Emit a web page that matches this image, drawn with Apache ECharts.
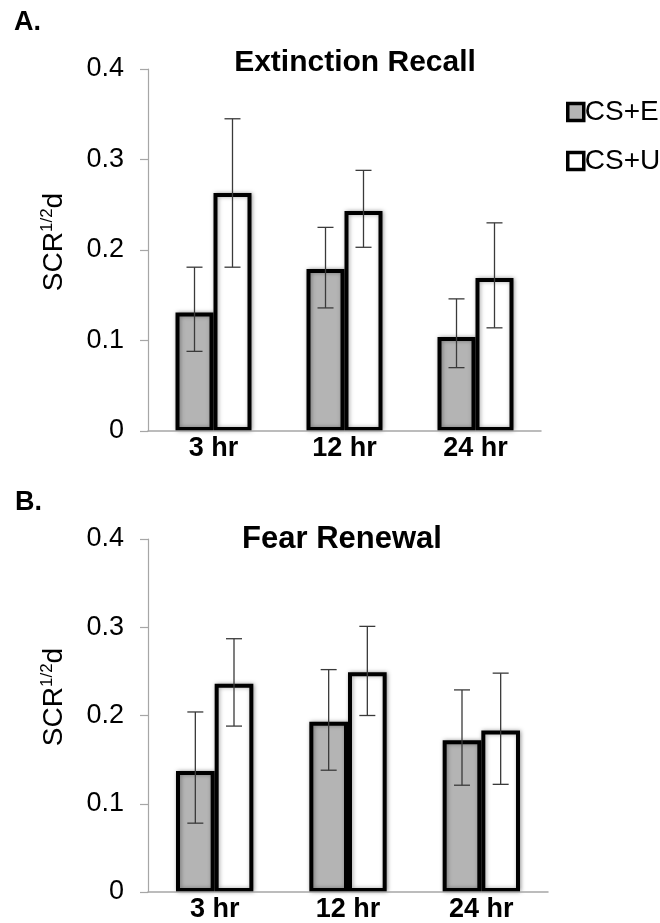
<!DOCTYPE html>
<html>
<head>
<meta charset="utf-8">
<script src="https://cdn.jsdelivr.net/npm/echarts@6/dist/echarts.min.js"></script>
<style>
html,body{margin:0;padding:0;background:#fff;}
#chart{width:660px;height:923px;}
</style>
</head>
<body>
<div id="chart"></div>
<script>
// ---- Data ----
const categories = ['3 hr', '12 hr', '24 hr'];
const seriesNames = ['CS+E', 'CS+U'];

// Panel A: Extinction Recall
const recallE = [0.131, 0.179, 0.104];
const recallU = [0.263, 0.243, 0.169];
const recallELow = [0.088, 0.136, 0.070];
const recallEHigh = [0.181, 0.225, 0.146];
const recallULow = [0.181, 0.203, 0.114];
const recallUHigh = [0.345, 0.288, 0.230];

// Panel B: Fear Renewal
const renewE = [0.137, 0.193, 0.172];
const renewU = [0.236, 0.249, 0.183];
const renewELow = [0.078, 0.138, 0.121];
const renewEHigh = [0.204, 0.252, 0.229];
const renewULow = [0.188, 0.200, 0.122];
const renewUHigh = [0.287, 0.301, 0.248];

const yTicks = [0, 0.1, 0.2, 0.3, 0.4];

// ---- Styles ----
const FONT = '"Liberation Sans", Arial, Helvetica, sans-serif';
const GRAY_FILL = '#b4b4b4';
const AXIS_GRAY = '#a6a6a6';
const CAT_GAP = 0.42;

function errData(lo, hi) {
  return lo.map((v, i) => [i, v, hi[i]]);
}

function errSeries(name, lo, hi, side, axisIdx) {
  return {
    type: 'custom',
    name: name + ' err',
    xAxisIndex: axisIdx,
    yAxisIndex: axisIdx,
    z: 10,
    silent: true,
    encode: { x: 0, y: [1, 2] },
    data: errData(lo, hi),
    renderItem: function (params, api) {
      const band = api.size([1, 0])[0];
      const barW = band * (1 - CAT_GAP) / 2;
      const c = api.coord([api.value(0), 0])[0] + side * barW / 2;
      const yLo = api.coord([api.value(0), api.value(1)])[1];
      const yHi = api.coord([api.value(0), api.value(2)])[1];
      const cap = 8;
      const st = { stroke: '#3a3a3a', lineWidth: 1.3 };
      return {
        type: 'group',
        children: [
          { type: 'line', shape: { x1: c, y1: yLo, x2: c, y2: yHi }, style: st },
          { type: 'line', shape: { x1: c - cap, y1: yHi, x2: c + cap, y2: yHi }, style: st },
          { type: 'line', shape: { x1: c - cap, y1: yLo, x2: c + cap, y2: yLo }, style: st }
        ]
      };
    }
  };
}

function barSeries(name, data, fill, axisIdx) {
  return {
    type: 'bar',
    name: name,
    xAxisIndex: axisIdx,
    yAxisIndex: axisIdx,
    data: data,
    barGap: '0%',
    barCategoryGap: (CAT_GAP * 100) + '%',
    itemStyle: {
      color: fill,
      borderColor: '#000',
      borderWidth: 4,
      shadowColor: 'rgba(0,0,0,0.35)',
      shadowBlur: 4,
      shadowOffsetX: 1
    },
    emphasis: { disabled: true }
  };
}

function xAxisDef(gridIndex) {
  return {
    type: 'category',
    gridIndex: gridIndex,
    data: categories,
    z: 5,
    axisLine: { show: true, lineStyle: { color: AXIS_GRAY, width: 1.5 } },
    axisTick: { show: false },
    axisLabel: {
      color: '#000', fontFamily: FONT, fontWeight: 'bold', fontSize: 27, margin: 4
    }
  };
}

function yAxisDef(gridIndex) {
  return {
    type: 'value',
    gridIndex: gridIndex,
    min: yTicks[0],
    max: yTicks[yTicks.length - 1],
    interval: 0.1,
    splitLine: { show: false },
    axisLine: { show: true, lineStyle: { color: AXIS_GRAY, width: 1.2 } },
    axisTick: { show: true, length: 8, lineStyle: { color: AXIS_GRAY, width: 1.2 } },
    axisLabel: {
      color: '#000', fontFamily: FONT, fontSize: 27, margin: 24,
      formatter: function (v) { return String(Math.round(v * 10) / 10); }
    }
  };
}

function yLabel(x, y) {
  return {
    type: 'text',
    x: x, y: y,
    rotation: Math.PI / 2,
    style: {
      text: '{m|SCR}{s|1/2}{m|d}',
      align: 'center',
      verticalAlign: 'middle',
      fill: '#000',
      rich: {
        m: { fontFamily: FONT, fontSize: 28, lineHeight: 30, fill: '#000' },
        s: { fontFamily: FONT, fontSize: 17, lineHeight: 17, verticalAlign: 'top', fill: '#000' }
      }
    }
  };
}

function textEl(txt, x, y, size, bold, align) {
  return {
    type: 'text', x: x, y: y,
    style: {
      text: txt, fontFamily: FONT, fontSize: size,
      fontWeight: bold ? 'bold' : 'normal',
      fill: '#000', align: align || 'left', verticalAlign: 'middle'
    }
  };
}

const chart = echarts.init(document.getElementById('chart'), null, { renderer: 'canvas' });

const option = {
  backgroundColor: '#fff',
  animation: false,
  grid: [
    { left: 148, right: 119, top: 69, height: 362 },
    { left: 148, right: 112, top: 539, height: 353 }
  ],
  legend: {
    data: seriesNames,
    orient: 'vertical',
    left: 561,
    top: 93,
    itemWidth: 16,
    itemHeight: 17,
    itemGap: 21,
    icon: 'rect',
    itemStyle: { borderColor: '#000', borderWidth: 3.5, shadowBlur: 0 },
    textStyle: { fontFamily: FONT, fontSize: 28, lineHeight: 28, color: '#000', padding: [0, 0, 0, -4] },
    selectedMode: false
  },
  xAxis: [xAxisDef(0), xAxisDef(1)],
  yAxis: [yAxisDef(0), yAxisDef(1)],
  series: [
    barSeries('CS+E', recallE, GRAY_FILL, 0),
    barSeries('CS+U', recallU, '#ffffff', 0),
    errSeries('CS+E', recallELow, recallEHigh, -1, 0),
    errSeries('CS+U', recallULow, recallUHigh, 1, 0),
    barSeries('CS+E', renewE, GRAY_FILL, 1),
    barSeries('CS+U', renewU, '#ffffff', 1),
    errSeries('CS+E', renewELow, renewEHigh, -1, 1),
    errSeries('CS+U', renewULow, renewUHigh, 1, 1)
  ],
  graphic: [
    textEl('A.', 14, 23, 27, true),
    textEl('B.', 15, 503, 27, true),
    textEl('Extinction Recall', 355, 63, 30, true, 'center'),
    textEl('Fear Renewal', 342, 539, 31, true, 'center'),
    yLabel(54, 242),
    yLabel(54, 697)
  ]
};

chart.setOption(option);
</script>
</body>
</html>
